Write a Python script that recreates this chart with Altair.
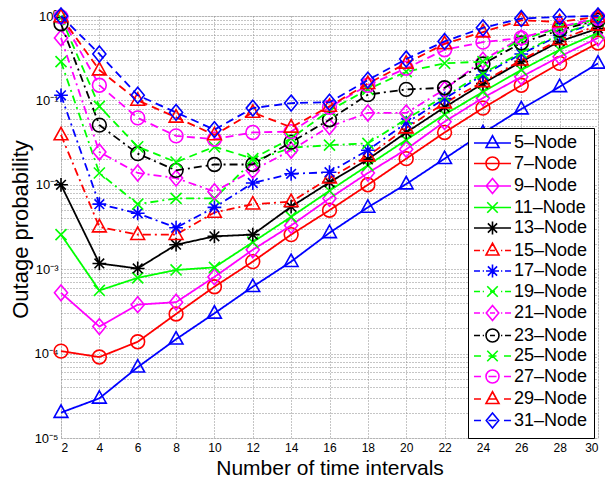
import altair as alt
import pandas as pd

# ---------------- data ----------------
x_vals = [2, 4, 6, 8, 10, 12, 14, 16, 18, 20, 22, 24, 26, 28, 30]

series_names = ["5–Node", "7–Node", "9–Node", "11–Node", "13–Node", "15–Node", "17–Node",
                "19–Node", "21–Node", "23–Node", "25–Node", "27–Node", "29–Node", "31–Node"]

p5 = [2.0e-5, 2.95e-5, 6.9e-5, 1.48e-4, 3.0e-4, 6.2e-4, 1.23e-3, 2.7e-3, 5.4e-3, 1.02e-2, 2.04e-2, 4.1e-2, 7.9e-2, 0.145, 0.275]
p7 = [1.07e-4, 9.1e-5, 1.38e-4, 2.95e-4, 6.2e-4, 1.23e-3, 2.57e-3, 5.0e-3, 1.0e-2, 2.04e-2, 4.17e-2, 8.1e-2, 0.151, 0.275, 0.479]
p9 = [5.25e-4, 2.09e-4, 3.8e-4, 4.07e-4, 8.1e-4, 1.7e-3, 3.3e-3, 6.9e-3, 1.38e-2, 2.63e-2, 5.6e-2, 0.107, 0.19, 0.33, 0.55]
p11 = [2.57e-3, 5.6e-4, 7.9e-4, 9.8e-4, 1.05e-3, 2.09e-3, 4.17e-3, 8.5e-3, 1.7e-2, 3.4e-2, 6.8e-2, 0.126, 0.229, 0.398, 0.63]
p13 = [1.0e-2, 1.17e-3, 1.02e-3, 1.95e-3, 2.45e-3, 2.57e-3, 5.5e-3, 1.07e-2, 2.0e-2, 4.17e-2, 8.3e-2, 0.158, 0.288, 0.50, 0.71]
p15 = [3.9e-2, 3.16e-3, 2.57e-3, 2.57e-3, 4.7e-3, 5.9e-3, 6.3e-3, 1.2e-2, 2.19e-2, 4.7e-2, 9.3e-2, 0.166, 0.30, 0.525, 0.776]
p17 = [0.115, 5.9e-3, 4.6e-3, 3.1e-3, 5.4e-3, 1.05e-2, 1.35e-2, 1.41e-2, 2.57e-2, 5.4e-2, 0.105, 0.20, 0.355, 0.59, 0.85]
p19 = [0.288, 1.38e-2, 5.9e-3, 6.9e-3, 6.9e-3, 1.9e-2, 2.75e-2, 2.95e-2, 3.1e-2, 6.0e-2, 0.112, 0.209, 0.37, 0.60, 0.87]
p21 = [0.55, 2.45e-2, 1.38e-2, 1.2e-2, 8.3e-3, 1.48e-2, 2.57e-2, 4.9e-2, 7.1e-2, 7.1e-2, 0.135, 0.30, 0.55, 0.74, 0.89]
p23 = [0.81, 5.1e-2, 2.34e-2, 1.48e-2, 1.74e-2, 1.74e-2, 3.2e-2, 5.9e-2, 0.117, 0.135, 0.141, 0.27, 0.48, 0.68, 0.89]
p25 = [0.955, 8.5e-2, 2.82e-2, 1.86e-2, 2.82e-2, 2.04e-2, 3.55e-2, 7.6e-2, 0.135, 0.219, 0.275, 0.288, 0.525, 0.724, 0.933]
p27 = [0.977, 0.151, 6.2e-2, 3.8e-2, 3.47e-2, 4.17e-2, 4.27e-2, 8.3e-2, 0.151, 0.24, 0.398, 0.49, 0.55, 0.74, 0.955]
p29 = [0.977, 0.229, 0.10, 6.3e-2, 3.9e-2, 7.2e-2, 4.8e-2, 8.5e-2, 0.158, 0.275, 0.468, 0.646, 0.89, 0.85, 0.977]
p31 = [1.0, 0.355, 0.115, 7.2e-2, 4.5e-2, 8.1e-2, 9.3e-2, 9.5e-2, 0.174, 0.309, 0.50, 0.724, 0.933, 0.977, 1.0]

all_values = [p5, p7, p9, p11, p13, p15, p17, p19, p21, p23, p25, p27, p29, p31]

y_ticks = [1e-5, 2e-5, 3e-5, 4e-5, 5e-5, 6e-5, 7e-5, 8e-5, 9e-5,
           1e-4, 2e-4, 3e-4, 4e-4, 5e-4, 6e-4, 7e-4, 8e-4, 9e-4,
           1e-3, 2e-3, 3e-3, 4e-3, 5e-3, 6e-3, 7e-3, 8e-3, 9e-3,
           1e-2, 2e-2, 3e-2, 4e-2, 5e-2, 6e-2, 7e-2, 8e-2, 9e-2,
           1e-1, 2e-1, 3e-1, 4e-1, 5e-1, 6e-1, 7e-1, 8e-1, 9e-1, 1.0]

# ---------------- styles ----------------
BLUE, RED, MAG, GRN, BLK = "#0000ff", "#ff0000", "#ff00ff", "#00ff00", "#000000"
colors = [BLUE, RED, MAG, GRN, BLK, RED, BLUE, GRN, MAG, BLK, GRN, MAG, RED, BLUE]
markers = ["tri", "circ", "diam", "x", "star", "tri", "star", "x", "diam", "circ", "x", "circ", "tri", "diam"]
styles = ["solid"] * 5 + ["dashdot"] * 5 + ["dashed"] * 4

dash_map = {"solid": [1, 0], "dashdot": [8, 4, 2, 4], "dashed": [8, 5]}

plot_shapes = {
    "tri": "M0,-1.1L1,0.7L-1,0.7Z",
    "circ": "circle",
    "diam": "M0,-1.15L0.95,0L0,1.15L-0.95,0Z",
    "x": "M-0.8,-0.8L0.8,0.8M-0.8,0.8L0.8,-0.8",
    "star": "M-1,0L1,0M0,-1L0,1M-0.7,-0.7L0.7,0.7M-0.7,0.7L0.7,-0.7",
}

# legend glyphs: a short line segment with the marker in its middle (1 unit = 5 px)
C = 1.9  # marker centre in legend units


def _m(dx, dy):
    return f"{C + dx:.2f},{dy:.2f}"


legend_markers = {
    "tri": f"M{_m(0, -1.45)}L{_m(1.3, 0.9)}L{_m(-1.3, 0.9)}Z",
    "circ": f"M{_m(-1.3, 0)}A1.3,1.3 0 1,0 {_m(1.3, 0)}A1.3,1.3 0 1,0 {_m(-1.3, 0)}Z",
    "diam": f"M{_m(0, -1.5)}L{_m(1.25, 0)}L{_m(0, 1.5)}L{_m(-1.25, 0)}Z",
    "x": f"M{_m(-1.05, -1.05)}L{_m(1.05, 1.05)}M{_m(-1.05, 1.05)}L{_m(1.05, -1.05)}",
    "star": (f"M{_m(-1.3, 0)}L{_m(1.3, 0)}M{_m(0, -1.3)}L{_m(0, 1.3)}"
             f"M{_m(-0.92, -0.92)}L{_m(0.92, 0.92)}M{_m(-0.92, 0.92)}L{_m(0.92, -0.92)}"),
}
legend_lines = {
    "solid": "M-1.8,0L5.6,0",
    "dashed": "M-1.8,0L-0.4,0M1.1,0L2.7,0M4.2,0L5.6,0",
    "dashdot": "M-1.8,0L-0.6,0M-0.05,0L0.2,0M1.4,0L2.4,0M3.6,0L3.85,0M4.4,0L5.6,0",
}
legend_paths = [legend_lines[s] + legend_markers[m] for s, m in zip(styles, markers)]

rows = []
for name, vals in zip(series_names, all_values):
    for xv, pv in zip(x_vals, vals):
        rows.append({"x": xv, "p": pv, "series": name})
df = pd.DataFrame(rows)

FONT = "Liberation Sans"

x_enc = alt.X("x:Q",
              scale=alt.Scale(domain=[2, 30], nice=False, zero=False),
              axis=alt.Axis(values=x_vals, format="d", title="Number of time intervals",
                            titleFontSize=21, titleFontWeight="normal", titleFont=FONT,
                            titleBaseline="top", titleY=19,
                            labelFont=FONT, labelFontSize=12, labelPadding=4,
                            ticks=False, domain=False, grid=True,
                            gridDash=[1, 2], gridColor="#8a8a8a", gridOpacity=1))

ylabel_expr = ("abs(log(datum.value)/LN10 - round(log(datum.value)/LN10)) > 0.01 ? '' : "
               "round(log(datum.value)/LN10) == 0 ? '10⁰' : "
               "round(log(datum.value)/LN10) == -1 ? '10⁻¹' : "
               "round(log(datum.value)/LN10) == -2 ? '10⁻²' : "
               "round(log(datum.value)/LN10) == -3 ? '10⁻³' : "
               "round(log(datum.value)/LN10) == -4 ? '10⁻⁴' : '10⁻⁵'")

y_enc = alt.Y("p:Q",
              scale=alt.Scale(type="log", domain=[1e-5, 1], nice=False),
              axis=alt.Axis(values=y_ticks, labelExpr=ylabel_expr, title="Outage probability",
                            titleFontSize=22, titleFontWeight="normal", titleFont=FONT,
                            titleX=-41, titleY=213, titleBaseline="middle", titleAngle=-90,
                            labelFont=FONT, labelFontSize=13, labelPadding=3,
                            ticks=False, domain=False, grid=True,
                            gridDash=[1, 2], gridColor="#8a8a8a", gridOpacity=1))

base = alt.Chart(df)

layers = []
for name, col, mk, st in zip(series_names, colors, markers, styles):
    sub = base.transform_filter(alt.datum.series == name)
    layers.append(sub.mark_line(color=col, strokeWidth=1.8, strokeDash=dash_map[st]).encode(x=x_enc, y=y_enc))
    layers.append(sub.mark_point(shape=plot_shapes[mk], color=col, filled=False, size=190,
                                 strokeWidth=1.6, opacity=1).encode(x=x_enc, y=y_enc))

leg = alt.Legend(title=None, orient="none", legendX=407, legendY=112, padding=6,
                 strokeColor="black", fillColor="white", cornerRadius=0,
                 labelFont=FONT, labelFontSize=18, labelOffset=22, labelLimit=0,
                 rowPadding=1.5, symbolSize=100, symbolStrokeWidth=1.6)

legend_layer = base.transform_filter("false").mark_point(filled=False, size=100, opacity=1).encode(
    x=x_enc, y=y_enc,
    color=alt.Color("series:N", scale=alt.Scale(domain=series_names, range=colors), legend=leg),
    shape=alt.Shape("series:N", scale=alt.Scale(domain=series_names, range=legend_paths), legend=leg),
)

chart = alt.layer(*layers, legend_layer).properties(
    width=537, height=422,
    autosize=alt.AutoSizeParams(type="none"),
    padding={"left": 61, "top": 16, "right": 7, "bottom": 43},
).configure_view(stroke="black", strokeWidth=1).configure(background="white")

chart.save("out.html", embed_options={"renderer": "svg", "actions": False})
